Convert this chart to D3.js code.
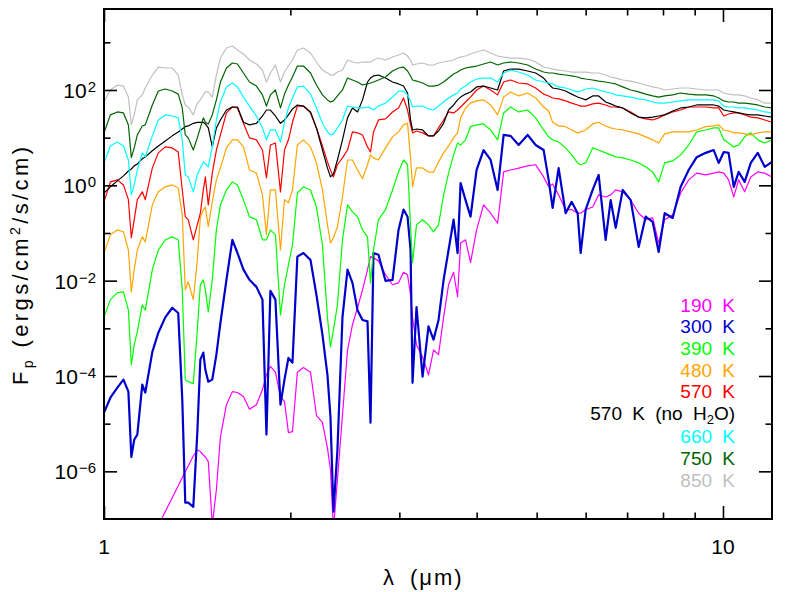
<!DOCTYPE html>
<html><head><meta charset="utf-8">
<script src="https://cdn.jsdelivr.net/npm/d3@7"></script>
<style>
body{margin:0;background:#fff;}
svg{display:block;}
text{font-family:"Liberation Sans",Arial,Helvetica,sans-serif;}
</style>
</head><body>
<svg id="chart" width="789" height="592"></svg>
<script>
// Wavelength grid (micron)
const lambda = [1.0,1.024,1.051,1.075,1.095,1.107,1.119,1.132,1.153,1.166,
1.197,1.224,1.256,1.289,1.318,1.338,1.353,1.368,1.394,1.415,
1.431,1.447,1.458,1.474,1.496,1.519,1.542,1.577,1.612,1.643,
1.680,1.718,1.763,1.803,1.830,1.857,1.892,1.928,1.957,1.986,
2.016,2.053,2.100,2.156,2.204,2.254,2.296,2.322,2.348,2.383,
2.428,2.474,2.520,2.568,2.616,2.665,2.695,2.725,2.776,2.850,
2.925,2.991,3.047,3.093,3.128,3.151,3.198,3.271,3.344,3.407,
3.471,3.537,3.603,3.671,3.726,3.768,3.838,3.910,3.999,4.104,
4.213,4.324,4.422,4.538,4.676,4.835,4.981,5.131,5.228,5.306,
5.426,5.569,5.695,5.824,5.889,6.000,6.158,6.297,6.463,6.585,
6.709,6.886,7.094,7.308,7.500,7.698,7.872,8.050,8.293,8.543,
8.802,9.068,9.377,9.660,9.841,10.03,10.21,10.41,10.60,10.84,
11.09,11.38,11.68,12.0];

// Planet flux F_p (ergs/cm^2/s/cm) per model
const flux850 = [56,100,127,121,71,18.5,30,62,79,110,
206,303,289,289,206,79,48.5,44,30,53,
62,79,91,91,71,206,468,759,835,689,
568,425,351,262,147,227,334,147,238,318,
425,689,759,596,386,262,227,206,206,238,
262,425,386,368,386,386,386,425,468,425,
491,541,596,516,425,334,351,368,334,334,
368,386,405,425,468,491,516,568,626,689,
596,516,491,468,468,446,386,303,289,275,
262,250,238,238,238,238,227,227,206,187,
178,162,154,140,127,116,110,100,105,110,
110,105,100,100,100,86.5,82,79,79,75,
68,62,53,53];

const flux750 = [12.6,30,34.6,33,18.5,3.8,6.1,11.4,17.6,18.5,
48.5,95,105,95,82,42,11.4,9.9,5.5,9.9,
16,26,21,19.4,30,62,147,289,368,351,
227,147,121,79,46,79,100,42,82,127,
187,318,318,227,127,79,62,56,59,75,
100,178,162,147,127,134,140,147,162,187,
250,289,303,250,197,162,154,140,121,121,
127,147,178,216,238,262,289,303,318,351,
386,334,368,386,368,334,275,238,227,227,
216,206,197,187,178,170,162,154,147,140,
134,116,100,91,82,75,71,75,79,86.5,
82,79,79,75,68,59,56,56,53,53,
51,48.5,44,42];

const flux660 = [2.95,6.7,8.1,6.7,3.4,0.63,1.02,2.1,4.8,3.95,
10.9,23.5,30,28.5,26,9.0,1.66,1.5,0.73,1.66,
2.32,3.1,2.8,2.44,6.4,23.5,56,116,140,116,
71,46,28.5,16,9.0,14.5,14.5,8.1,21,42,
68,116,121,82,42,20,13.2,11.4,12,16,
23.5,46,44,42,42,44,42,38,46,53,
71,95,95,79,59,44,46,46,40,38,
46,56,68,79,86.5,105,121,147,170,178,
178,147,227,262,238,206,162,147,140,134,
116,110,100,91,95,105,110,100,91,86.5,
79,75,71,65,62,56,53,53,56,59,
62,62,62,62,59,46,44,44,42,42,
40,38,34.6,33];

const flux570 = [0.45,1.18,1.3,1.02,0.50,0.079,0.19,0.50,0.73,0.50,
2.32,4.8,6.4,6.1,5.0,0.80,0.22,0.19,0.072,0.15,
0.26,0.80,1.5,0.39,1.8,5.5,11.4,33,44,42,
20,9.9,9.0,5.5,1.43,7.0,7.75,0.73,5.5,9.0,
21,46,46,33,16,6.7,3.1,2.1,1.5,2.7,
3.76,5.5,13.2,12.6,11.4,6.4,5.0,13.2,23.5,24.7,
34.6,42,68,38,18.5,12.6,13.8,12.6,10.9,10.9,
16,23.5,34.6,33,38,44,56,71,100,121,
100,79,147,162,140,134,110,82,75,68,
65,59,53,48.5,46,46,51,53,48.5,44,
44,42,34.6,27,24.7,23.5,26,30,34.6,38,
44,44,44,42,42,28.5,31.4,33,33,30,
27,26,23.5,21];

const flux570noH2O = [0.69,0.93,1.24,1.58,2.0,2.2,2.56,2.8,3.6,3.95,
5.3,6.7,8.5,10.9,13.2,15.2,17,17.6,20,21,
21,21,19.4,16,6.4,16,23.5,38,44,44,
21,18.5,20,28.5,38,38,28.5,20,23.5,30,
40,48.5,46,34.6,16,5.5,2.32,1.5,1.74,3.4,
9.0,26,42,34.6,62,147,178,197,206,178,
147,134,121,86.5,23.5,14.5,15.2,14.5,10.9,10.9,
13.8,20,38,48.5,62,71,82,91,116,121,
110,100,250,275,275,250,227,178,134,110,
105,95,82,71,68,62,75,75,56,51,
46,42,33,27,26,27,28.5,30,36.3,42,
44,48.5,48.5,48.5,46,38,36.3,34.6,33,31.4,
30,30,28.5,27];

const flux480 = [0.038,0.092,0.116,0.106,0.044,0.0058,0.017,0.044,0.083,0.065,
0.39,0.73,0.93,1.02,0.88,0.24,0.0064,0.0095,0.0040,0.027,
0.21,0.31,0.35,0.135,0.45,1.3,2.32,6.1,9.0,9.0,
6.4,2.1,1.8,0.63,0.092,0.80,0.80,0.044,0.50,0.43,
0.80,7.0,9.0,6.4,2.95,0.80,0.15,0.062,0.079,0.135,
0.57,3.4,3.4,2.1,1.37,2.7,4.35,3.76,3.4,6.1,
10.4,13.2,18.5,20,3.76,0.93,2.32,2.32,1.9,1.9,
3.1,4.8,6.7,9.9,12.6,26,42,53,59,62,
48.5,30,71,91,75,86.5,68,44,36.3,21,
17.6,17,14.5,12.6,13.2,14.5,19.4,21,17.6,16,
15.2,14.5,13.2,12,10.4,9.0,7.75,12,13.2,13.2,
13.2,14.5,17,17.6,18.5,14.5,13.8,12.6,12.6,12,
11.4,12.6,13.2,13.2];

const flux390 = [0.0017,0.0040,0.0056,0.0058,0.0024,1.7e-4,4.5e-4,8.5e-4,0.0031,0.0024,
0.017,0.044,0.072,0.083,0.072,0.0064,8.4e-5,7.6e-5,6.9e-5,9.3e-4,
0.0082,0.0104,0.0064,0.0022,0.0104,0.116,0.39,0.80,1.18,1.02,
0.49,0.22,0.19,0.072,0.072,0.116,0.091,0.0019,0.0082,0.0215,
0.056,0.69,0.93,0.80,0.35,0.056,0.0017,4.1e-4,9.3e-4,0.0031,
0.072,0.39,0.277,0.22,0.116,0.083,0.009,0.044,0.19,0.31,
0.80,1.91,3.4,2.7,0.135,0.024,0.148,0.19,0.148,0.106,
0.148,0.63,1.8,4.35,7.7,7.0,9.0,17,18.5,19.4,
14.5,9.0,33,44,34.6,38,26,14.5,10.4,9.0,
8.1,6.1,4.35,2.95,2.7,2.95,6.1,5.5,4.8,4.35,
3.95,3.76,3.4,2.95,2.44,1.91,1.18,2.95,3.25,4.35,
7.0,13.2,14.5,16,16,9.0,7.7,6.4,7.0,10.4,
12.6,9.0,7.7,9.0];

const flux300 = [1.7e-5,3.5e-5,5.7e-5,8.4e-5,4.7e-5,2.0e-6,4.6e-6,5.9e-6,6.6e-5,4.5e-5,
3.2e-4,8.1e-4,0.0017,0.0027,0.0021,3.2e-5,2.2e-7,2.2e-7,1.8e-7,6.5e-6,
2.2e-4,3.1e-4,1.35e-4,7.6e-5,8.4e-5,2.8e-4,0.0013,0.0104,0.072,0.038,
0.017,0.0104,0.0074,0.0040,5.9e-6,0.0061,0.0040,2.5e-5,8.4e-5,2.4e-4,
1.9e-4,0.032,0.038,0.027,0.0050,7.3e-4,1.06e-4,1.4e-5,1.43e-7,2.8e-6,
0.0017,0.017,0.009,0.0024,0.0015,0.0014,1.05e-5,0.038,0.035,0.0099,
0.0104,0.116,0.31,0.22,0.044,7.2e-5,0.0028,9.7e-5,0.0011,5.8e-4,
0.0015,0.0104,0.044,0.19,0.038,1.12,0.49,0.22,2.1,5.5,
3.4,0.80,11.4,10.9,7.0,11.4,7.0,5.5,1.3,0.336,
2.3,0.26,0.45,0.26,0.038,0.31,0.80,1.65,0.072,0.49,
0.128,0.80,0.49,0.051,0.22,0.171,0.040,0.26,0.207,0.93,
2.1,3.9,4.8,5.5,2.95,5.0,4.8,0.93,1.91,1.18,
2.95,4.8,2.44,3.1];

const flux190 = [null,null,null,null,null,null,null,null,null,null,
4.1e-8,7.3e-8,1.43e-7,2.8e-7,5.0e-7,7.4e-7,9.8e-7,1.3e-6,2.1e-6,2.8e-6,
2.6e-6,2.2e-6,2.0e-6,1.6e-6,7.6e-8,4.1e-7,5.3e-6,2.5e-5,4.7e-5,4.5e-5,
3.7e-5,2.0e-5,2.5e-5,5.2e-5,1.06e-4,1.6e-4,1.2e-4,3.7e-5,2.9e-5,6.5e-6,
6.8e-6,1.2e-4,1.5e-4,1.2e-4,1.5e-5,1.05e-5,3.1e-6,1.08e-6,6e-8,6.7e-7,
1.5e-5,3.5e-4,0.00119,0.0027,0.0064,0.017,0.032,0.030,0.026,0.0133,
0.0082,0.009,0.015,0.0133,0.0050,0.0017,4.5e-4,2.5e-4,1.06e-4,3.5e-4,
2.8e-4,0.0017,0.0082,0.015,0.0046,0.062,0.072,0.024,0.116,0.39,
0.26,0.16,1.91,2.1,2.3,2.55,2.7,1.5,0.93,1.07,
0.63,0.31,0.31,0.26,0.26,0.31,0.35,0.63,0.57,0.63,
0.80,0.73,0.49,0.26,0.19,0.207,0.062,0.19,0.24,0.69,
1.3,1.8,1.65,1.8,1.91,1.8,1.3,0.57,1.3,0.73,
1.5,1.91,1.8,1.5];

const legendLabels = ["190 K","300 K","390 K","480 K","570 K","570 K (no H2O)","660 K","750 K","850 K"];
const xTickMajor = [1, 10];
const xTickMinor = [2,3,4,5,6,7,8,9];
const yTickMajorExp = [-6,-4,-2,0,2];
const yTickMinorExp = [-5,-3,-1,1,3];

const series = [
  {label:"190 K", values:flux190, color:"#ff00ff", w:1.2},
  {label:"300 K", values:flux300, color:"#0000cd", w:2.2},
  {label:"390 K", values:flux390, color:"#00ff00", w:1.2},
  {label:"480 K", values:flux480, color:"#ffa500", w:1.2},
  {label:"570 K", values:flux570, color:"#ff0000", w:1.2},
  {label:"570 K (no H2O)", values:flux570noH2O, color:"#000000", w:1.2},
  {label:"660 K", values:flux660, color:"#00ffff", w:1.2},
  {label:"750 K", values:flux750, color:"#006400", w:1.2},
  {label:"850 K", values:flux850, color:"#c0c0c0", w:1.2}
];

const L = 104, R = 772, T = 9, B = 519;
const svg = d3.select("#chart");
const x = d3.scaleLog().domain([1, 12]).range([L, R]);
const y = d3.scaleLog().domain([1e-7, 5000]).range([B, T]);

svg.append("defs").append("clipPath").attr("id","plotclip")
  .append("rect").attr("x",L).attr("y",T).attr("width",R-L).attr("height",B-T);

const line = d3.line()
  .defined(d => d.f != null && d.f > 0)
  .x(d => x(d.l)).y(d => y(d.f));

const plot = svg.append("g").attr("clip-path","url(#plotclip)");
series.forEach(s => {
  const pts = lambda.map((l,i) => ({l:l, f: s.values[i]}));
  plot.append("path").datum(pts)
    .attr("fill","none").attr("stroke",s.color)
    .attr("stroke-width",s.w).attr("stroke-linejoin","round")
    .attr("d",line);
});

// ticks
function styleAxis(g){
  g.select(".domain").remove();
  g.selectAll("line").attr("stroke","#000").attr("stroke-width",1.6);
  g.selectAll("text").remove();
}
svg.append("g").attr("transform",`translate(0,${B})`).call(d3.axisBottom(x).tickValues(xTickMajor).tickSize(-13)).call(styleAxis);
svg.append("g").attr("transform",`translate(0,${B})`).call(d3.axisBottom(x).tickValues(xTickMinor).tickSize(-6.5)).call(styleAxis);
svg.append("g").attr("transform",`translate(0,${T})`).call(d3.axisTop(x).tickValues(xTickMajor).tickSize(-13)).call(styleAxis);
svg.append("g").attr("transform",`translate(0,${T})`).call(d3.axisTop(x).tickValues(xTickMinor).tickSize(-6.5)).call(styleAxis);
const yMaj = yTickMajorExp.map(e => Math.pow(10,e));
const yMin = yTickMinorExp.map(e => Math.pow(10,e));
svg.append("g").attr("transform",`translate(${L},0)`).call(d3.axisLeft(y).tickValues(yMaj).tickSize(-13)).call(styleAxis);
svg.append("g").attr("transform",`translate(${L},0)`).call(d3.axisLeft(y).tickValues(yMin).tickSize(-6.5)).call(styleAxis);
svg.append("g").attr("transform",`translate(${R},0)`).call(d3.axisRight(y).tickValues(yMaj).tickSize(-13)).call(styleAxis);
svg.append("g").attr("transform",`translate(${R},0)`).call(d3.axisRight(y).tickValues(yMin).tickSize(-6.5)).call(styleAxis);

// frame
svg.append("rect").attr("x",L).attr("y",T).attr("width",R-L).attr("height",B-T)
  .attr("fill","none").attr("stroke","#000").attr("stroke-width",2);

// x tick labels
xTickMajor.forEach(v => {
  svg.append("text").attr("x",x(v)).attr("y",554).attr("text-anchor","middle")
    .attr("font-size",21).text(String(v));
});
// y tick labels
yTickMajorExp.forEach(e => {
  const t = svg.append("text").attr("x",96).attr("y",y(Math.pow(10,e))+8)
    .attr("text-anchor","end").attr("font-size",21);
  t.append("tspan").text("10");
  t.append("tspan").attr("dx",1).attr("dy",-6).attr("font-size",15).text(e < 0 ? "\u2212" + (-e) : String(e));
});

// axis titles
svg.append("text").attr("x",383).attr("y",585).attr("font-size",22).text("\u03bb");
svg.append("text").attr("x",410).attr("y",585).attr("font-size",22)
  .style("letter-spacing","2px").text("(\u03bcm)");
const yt = svg.append("text").attr("transform",`translate(28,266) rotate(-90)`)
  .attr("text-anchor","middle").attr("font-size",22)
  .attr("textLength",238).attr("lengthAdjust","spacing");
yt.append("tspan").text("F");
yt.append("tspan").attr("dy",5).attr("font-size",14).text("p");
yt.append("tspan").attr("dy",-5).text(" (ergs/cm");
yt.append("tspan").attr("dy",-8).attr("font-size",14).text("2");
yt.append("tspan").attr("dy",8).text("/s/cm)");

// legend
const legY = [312,333,355,377,398,420,443,465,487];
series.forEach((s,i) => {
  const t = svg.append("text").attr("x",735).attr("y",legY[i])
    .attr("text-anchor","end").attr("font-size",19).attr("fill",s.color)
    .style("word-spacing","5px");
  if (s.label.indexOf("H2O") >= 0) {
    t.append("tspan").text("570 K (no H");
    t.append("tspan").attr("dy",4).attr("font-size",13).text("2");
    t.append("tspan").attr("dy",-4).text("O)");
  } else {
    t.text(legendLabels[i]);
  }
});
</script>
</body></html>
